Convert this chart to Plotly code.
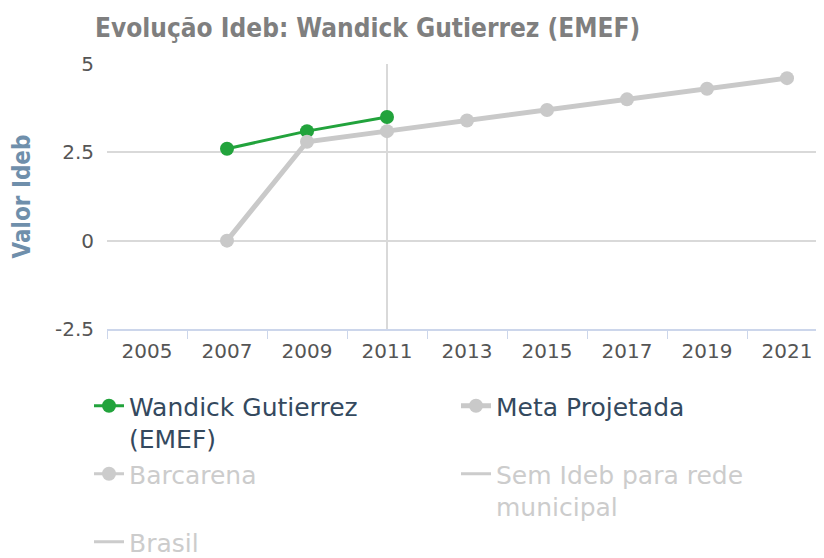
import plotly.graph_objects as go

years = ["2005", "2007", "2009", "2011", "2013", "2015", "2017", "2019", "2021"]
escola = [None, 2.6, 3.1, 3.5, None, None, None, None, None]
meta = [None, 0.0, 2.8, 3.1, 3.4, 3.7, 4.0, 4.3, 4.6]
# hidden series (values not shown in the picture)
barcarena = [None] * len(years)
sem_ideb = [None] * len(years)
brasil = [None] * len(years)

school_name = "Wandick Gutierrez<br>(EMEF)"
title_text = "Evolução Ideb: Wandick Gutierrez (EMEF)"

FONT = "DejaVu Sans Condensed"
TICKFONT = "DejaVu Sans"
LEGFONT = "DejaVu Sans"
GREEN = "#22a33c"
GRAY = "#c9c9c9"
HID = "#9a9a9a"

# page body adds an 8px offset; figure is sized to fill the rest of the window
W, H = 816, 550
L, T, B = 99, 56, 229
plot_w = W - L
plot_h = H - T - B
cat_px = 80

fig = go.Figure()
fig.add_trace(go.Scatter(x=years, y=escola, name=school_name, mode="lines+markers",
                         line=dict(color=GREEN, width=3), marker=dict(color=GREEN, size=14)))
fig.add_trace(go.Scatter(x=years, y=meta, name="Meta Projetada", mode="lines+markers",
                         line=dict(color=GRAY, width=5), marker=dict(color=GRAY, size=14)))
fig.add_trace(go.Scatter(x=years, y=barcarena, name=f'<span style="color:{HID}">Barcarena</span>',
                         mode="lines+markers", visible="legendonly",
                         line=dict(color=HID, width=3), marker=dict(color=HID, size=14)))
fig.add_trace(go.Scatter(x=years, y=sem_ideb, name=f'<span style="color:{HID}">Sem Ideb para rede<br>municipal</span>',
                         mode="lines", visible="legendonly", line=dict(color=HID, width=3)))
fig.add_trace(go.Scatter(x=years, y=brasil, name=f'<span style="color:{HID}">Brasil</span>',
                         mode="lines", visible="legendonly", line=dict(color=HID, width=3)))

last_year = [y for y, v in zip(years, escola) if v is not None][-1]
xi = years.index(last_year)
fig.add_shape(type="line", xref="x", yref="paper", x0=xi, x1=xi, y0=0, y1=1,
              line=dict(color="#d9d9d9", width=2), layer="below")

fig.update_layout(
    width=W, height=H,
    margin=dict(l=L, r=0, t=T, b=B, autoexpand=False),
    paper_bgcolor="white", plot_bgcolor="white",
    font=dict(family=FONT, color="#555555"),
    title=dict(text="<b>" + title_text + "</b>", xref="container", yref="container", x=87/W, xanchor="left",
               y=1 - 20/H, yanchor="middle", font=dict(family=FONT, size=26, color="#7f7f7f")),
    showlegend=True,
    legend=dict(orientation="h", xref="paper", x=(81 - L)/plot_w, xanchor="left",
                yref="paper", y=(T + plot_h - 375)/plot_h, yanchor="top",
                entrywidth=322, entrywidthmode="pixels", valign="top",
                font=dict(family=LEGFONT, size=25, color="#34495e"),
                itemwidth=30, tracegroupgap=0),
)
fig.update_xaxes(type="category", range=[-0.5, -0.5 + plot_w/cat_px], showgrid=False, automargin=False,
                 showline=True, linecolor="#ccd6eb", linewidth=1.5,
                 ticks="outside", tickson="boundaries", ticklen=8, tickcolor="#ccd6eb",
                 ticklabelstandoff=3,
                 tickfont=dict(family=TICKFONT, size=20, color="#555555"), fixedrange=True)
fig.update_yaxes(range=[-2.5, 5], tickvals=[-2.5, 0, 2.5, 5], ticktext=["-2.5", "0", "2.5", "5"],
                 showgrid=True, gridcolor="#d9d9d9", gridwidth=1.5, zeroline=False, automargin=False,
                 showline=False, ticks="", ticklabelstandoff=12,
                 tickfont=dict(family=TICKFONT, size=20, color="#555555"),
                 title=dict(text="<b>Valor Ideb</b>", font=dict(family=FONT, size=24, color="#6f8fab"), standoff=28))

fig.write_html("out.html")
